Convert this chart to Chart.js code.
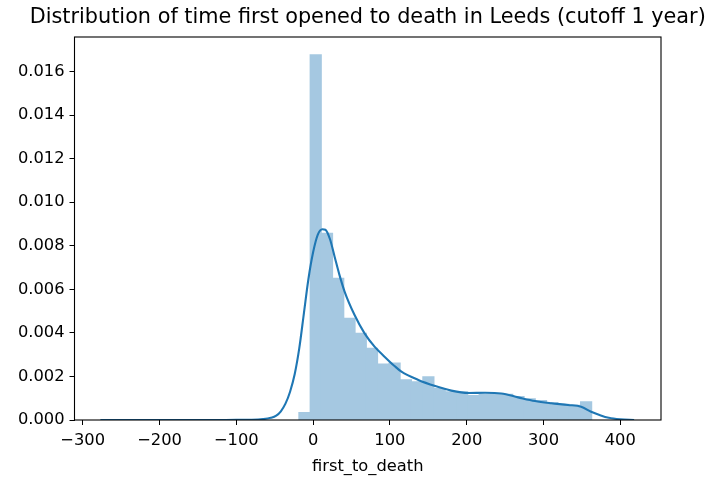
<!DOCTYPE html>
<html>
<head>
<meta charset="utf-8">
<title>first_to_death</title>
<script src="https://cdn.jsdelivr.net/npm/chart.js@4.4.1/dist/chart.umd.min.js"></script>
<style>
  body { margin: 0; background: #fff; }
  canvas { display: block; }
</style>
</head>
<body>
<canvas id="distChart" width="711" height="479"></canvas>
<script>
// histogram bins (centres, days) and their density
const binCenters = [-11.3, 3.4, 18.1, 32.7, 47.4, 62.1, 76.7, 91.4, 106.1, 120.8, 135.4, 150.1, 164.8,
  179.4, 194.1, 208.8, 223.4, 238.1, 252.8, 267.5, 282.1, 296.8, 311.5, 326.1, 340.8, 355.5];
const binDensity = [0.00034, 0.01677, 0.00858, 0.00651, 0.00467, 0.00398, 0.00329, 0.00257, 0.00262,
  0.00185, 0.00176, 0.00199, 0.00145, 0.0013, 0.0013, 0.00112, 0.00118, 0.0012, 0.00118, 0.00108,
  0.00098, 0.0009, 0.0008, 0.00072, 0.00068, 0.00084];

// kde curve
const kdeX = [-277, -200, -150, -100, -80, -65, -55, -48, -42, -36, -30, -24, -18, -12, -6, 0,
  6, 12, 16, 22, 28, 34, 41, 54, 67, 80, 93, 106, 115, 137, 159, 180, 202, 224, 245, 267, 289, 310,
  332, 349, 362, 373, 385, 400, 418];
const kdeY = [0, 0, 0, 0.000005, 0.00001, 0.00004, 0.0001, 0.0002, 0.0004, 0.00075, 0.0013,
  0.0021, 0.0033, 0.0049, 0.0065, 0.0077, 0.0085, 0.00876, 0.00874, 0.0083, 0.0075, 0.0067,
  0.0059, 0.00482, 0.00398, 0.00337, 0.00291, 0.00248, 0.00222, 0.00184, 0.00156, 0.00135, 0.00124,
  0.00125, 0.00122, 0.00104, 0.00087, 0.00077, 0.00069, 0.00061, 0.00038, 0.00023, 0.0001, 0.00003, 0];

const xTicks = [-300, -200, -100, 0, 100, 200, 300, 400];
const yTicks = [0, 0.002, 0.004, 0.006, 0.008, 0.010, 0.012, 0.014, 0.016];

const FONT = "'DejaVu Sans', sans-serif";

const framePlugin = {
  id: "frame",
  afterDatasetsDraw(chart) {
    const {ctx, chartArea: a} = chart;
    ctx.save();
    ctx.strokeStyle = "#000";
    ctx.lineWidth = 1.1;
    ctx.strokeRect(a.left, a.top, a.right - a.left, a.bottom - a.top);
    ctx.restore();
  },
  afterDraw(chart) {
    const {ctx, chartArea: a} = chart;
    ctx.save();
    ctx.fillStyle = "#000";
    ctx.font = "20.8px " + FONT;
    ctx.textAlign = "center";
    ctx.textBaseline = "middle";
    ctx.fillText("Distribution of time first opened to death in Leeds (cutoff 1 year)", (a.left + a.right) / 2, 18);
    ctx.restore();
  }
};

new Chart(document.getElementById("distChart"), {
  type: "bar",
  data: {
    datasets: [
      {
        type: "line",
        data: kdeX.map((x, i) => ({x: x, y: kdeY[i]})),
        borderColor: "#1f77b4",
        borderWidth: 2.1,
        pointRadius: 0,
        fill: false,
        cubicInterpolationMode: "monotone",
        order: 0
      },
      {
        type: "bar",
        data: binCenters.map((x, i) => ({x: x, y: binDensity[i]})),
        backgroundColor: "#a5c8e1",
        borderWidth: 0,
        inflateAmount: 0.5,
        barPercentage: 1,
        categoryPercentage: 1,
        order: 1
      }
    ]
  },
  options: {
    responsive: false,
    animation: false,
    layout: { padding: { top: 37, right: 50, left: 0, bottom: 0 } },
    plugins: { legend: { display: false }, tooltip: { enabled: false }, title: { display: false } },
    scales: {
      x: {
        type: "linear",
        offset: false,
        min: -310.7,
        max: 453,
        afterBuildTicks: (s) => { s.ticks = xTicks.map(v => ({value: v})); },
        afterFit: (s) => { s.height = 59; },
        grid: { drawOnChartArea: false, drawTicks: true, tickLength: 5, color: "#000", offset: false },
        border: { display: false },
        ticks: {
          color: "#000",
          padding: 6,
          maxRotation: 0,
          autoSkip: false,
          font: { family: FONT, size: 16.3 },
          callback: (v) => (v < 0 ? "\u2212" + Math.abs(v) : String(v))
        },
        title: {
          display: true,
          text: "first_to_death",
          color: "#000",
          font: { family: FONT, size: 16.3 },
          padding: { top: 0, bottom: 2 }
        }
      },
      y: {
        min: 0,
        max: 0.01759,
        afterBuildTicks: (s) => { s.ticks = yTicks.map(v => ({value: v})); },
        afterFit: (s) => { s.width = 74.5; },
        grid: { drawOnChartArea: false, drawTicks: true, tickLength: 5, color: "#000" },
        border: { display: false },
        ticks: {
          color: "#000",
          padding: 5,
          font: { family: FONT, size: 16.3 },
          callback: (v) => v.toFixed(3)
        }
      }
    }
  },
  plugins: [framePlugin]
});
</script>
</body>
</html>
